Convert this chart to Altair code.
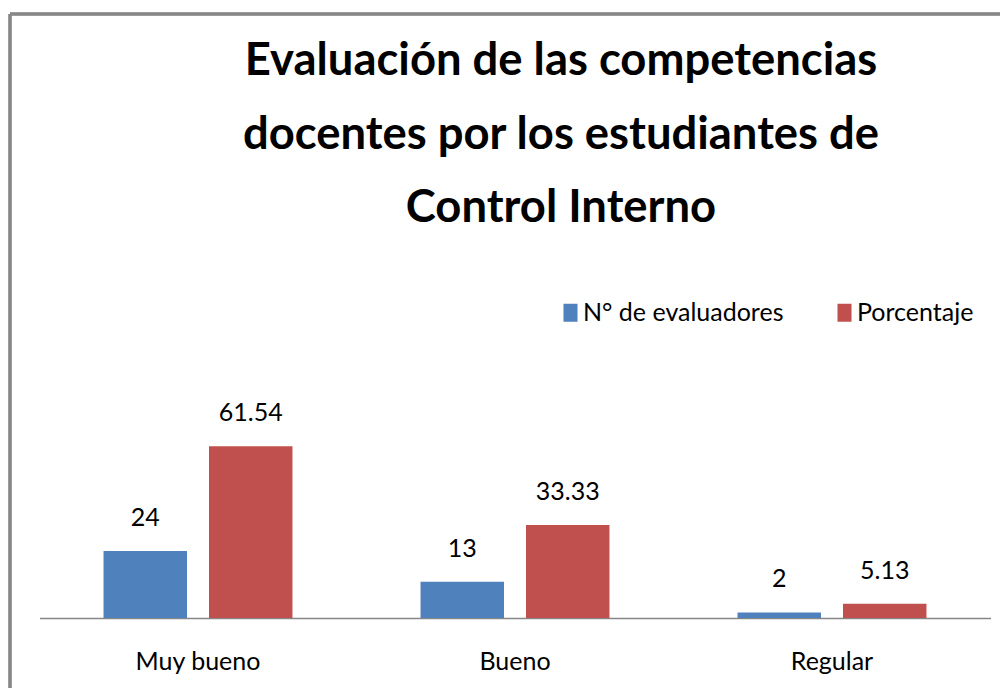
import altair as alt
import pandas as pd

categories = ["Muy bueno", "Bueno", "Regular"]
series = ["N° de evaluadores", "Porcentaje"]
evaluadores = [24, 13, 2]
porcentaje = [61.54, 33.33, 5.13]
labels_ev = ["24", "13", "2"]
labels_pc = ["61.54", "33.33", "5.13"]

rows = []
for c, v, l in zip(categories, evaluadores, labels_ev):
    rows.append({"cat": c, "serie": series[0], "valor": v, "txt": l})
for c, v, l in zip(categories, porcentaje, labels_pc):
    rows.append({"cat": c, "serie": series[1], "valor": v, "txt": l})
df = pd.DataFrame(rows)

FONT = "Lato, DejaVu Sans Condensed, sans-serif"
W, H = 990, 604

x = alt.X("cat:N", sort=categories, title=None,
          scale=alt.Scale(range=[29.5, 980.5], paddingInner=0.404, paddingOuter=0.202),
          axis=alt.Axis(labelAngle=0, labelFont=FONT, labelFontSize=25, labelColor="#000000",
                        labelPadding=31, domainColor="#868686", domainWidth=1.5, ticks=False))
xo = alt.XOffset("serie:N", sort=series, scale=alt.Scale(paddingInner=0.2085, paddingOuter=0))
y = alt.Y("valor:Q", scale=alt.Scale(domain=[0, 216.5]), axis=None)

bars = alt.Chart(df).mark_bar().encode(
    x=x, xOffset=xo, y=y,
    color=alt.Color("serie:N", sort=series,
                    scale=alt.Scale(domain=series, range=["#4F81BD", "#C0504D"]),
                    legend=alt.Legend(title=None, orient="none", direction="horizontal",
                                      legendX=548, legendY=286,
                                      symbolType="M-0.78,-1H0.78V1H-0.78Z", symbolSize=324,
                                      symbolStrokeWidth=0, labelFont=FONT, labelFontSize=25,
                                      labelColor="#000000", columnPadding=48, labelOffset=0,
                                      labelLimit=0)),
)

text = alt.Chart(df).mark_text(font=FONT, fontSize=25, color="#000000",
                               baseline="alphabetic", dy=-25).encode(
    x=x, xOffset=xo, y=y, text="txt:N")

border = alt.Chart(df).mark_rule(color="#878787", strokeWidth=2.5).encode(
    x=alt.value(0), x2=alt.value(1200), y=alt.value(0))
border_l = alt.Chart(df).mark_rule(color="#878787", strokeWidth=2.5).encode(
    x=alt.value(0), y=alt.value(0), y2=alt.value(900))

chart = alt.layer(bars, text, border, border_l).properties(
    width=W, height=H,
    title=alt.TitleParams(
        ["Evaluación de las competencias", "docentes por los estudiantes de", "Control Interno"],
        font=FONT, fontSize=45.4, fontWeight="bold", color="#000000",
        anchor="middle", frame="group", baseline="alphabetic", lineHeight=73.5,
        dx=56, dy=255, offset=0),
    autosize=alt.AutoSizeParams(type="none"),
    padding={"left": 2, "top": 6, "right": 0, "bottom": 70},
).configure_view(stroke=None)

chart.save("out.html", embed_options={"renderer": "svg", "actions": False})
